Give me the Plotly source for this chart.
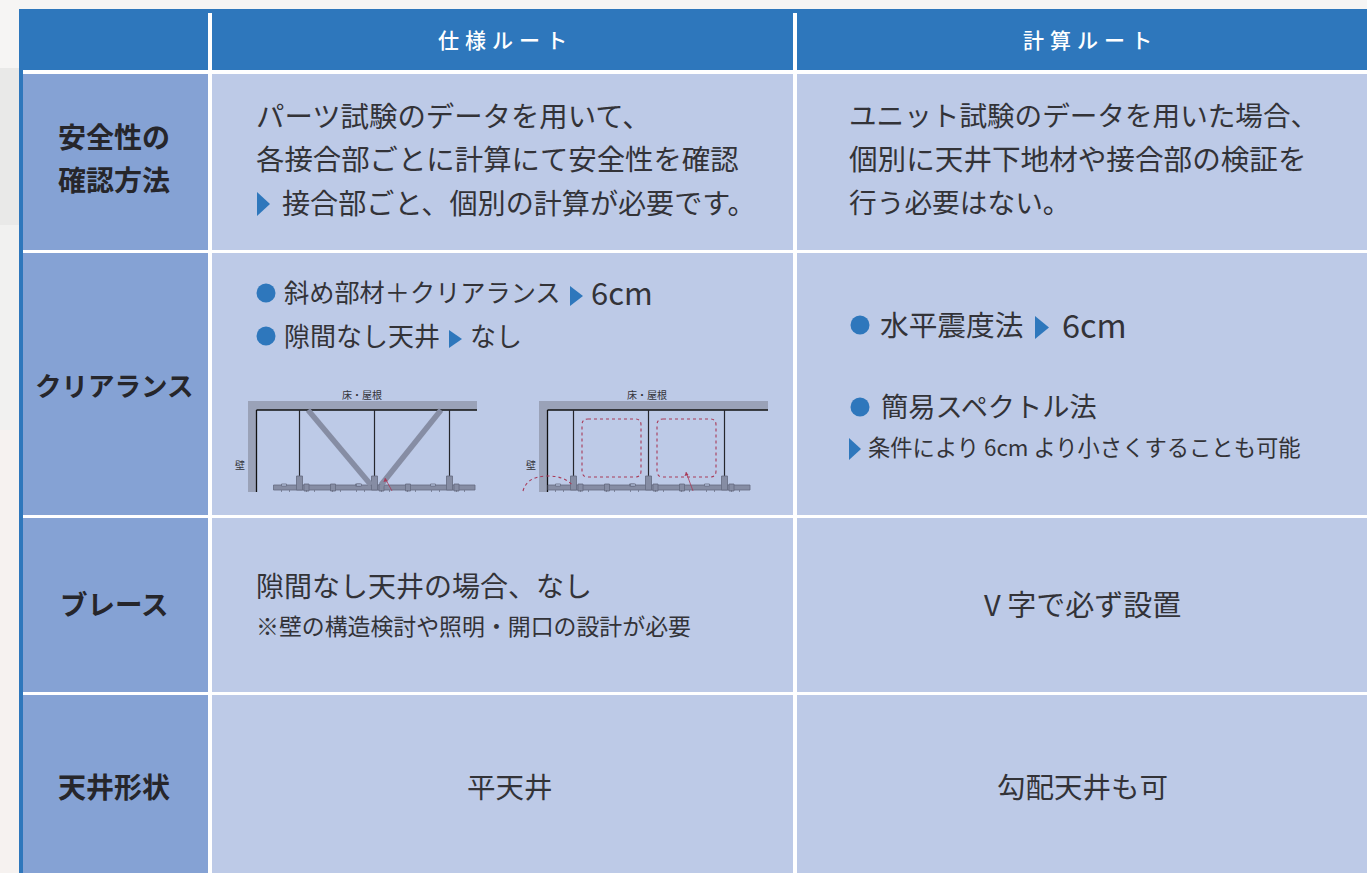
import plotly.graph_objects as go

W, H = 1367, 873
FONT = "Noto Sans CJK JP"
INK = "#333338"
BLUE = "#2e77bc"
LABEL_BG = "#85a2d4"
CELL_BG = "#bdcae7"
STEEL = "#9aa2b8"
BAR = "#868da4"
BAR_EDGE = "#656b80"
RED = "#a93a58"

# Table content
header_labels = ["仕\u200a 様\u200a ル\u200a ー\u200a ト", "計\u200a 算\u200a ル\u200a ー\u200a ト"]
row_labels = ["安全性の", "確認方法", "クリアランス", "ブレース", "天井形状"]
left_cell_texts = [
    "パーツ試験のデータを用いて、",
    "各接合部ごとに計算にて安全性を確認",
    "接合部ごと、個別の計算が必要です。",
    "斜め部材＋クリアランス",
    "6cm",
    "隙間なし天井",
    "なし",
    "隙間なし天井の場合、なし",
    "※壁の構造検討や照明・開口の設計が必要",
    "ユニット試験のデータを用いた場合、",
    "個別に天井下地材や接合部の検証を",
    "行う必要はない。",
    "水平震度法",
    "6cm",
    "簡易スペクトル法",
    "条件により 6cm より小さくすることも可能",
]
centered_texts = ["V 字で必ず設置", "平天井", "勾配天井も可"]
diagram_texts = ["床・屋根", "壁", "床・屋根", "壁"]

# Placement (kept apart from the content above)
header_x = [502, 1087]
label_y = [138, 181, 386, 605, 788]
label_sizes = [28, 28, 26.5, 27.5, 28]
left_x = [257, 257, 283, 285, 592, 285, 471, 257, 257, 850, 850, 850, 881, 1063, 882, 869]
left_y = [116, 159, 203, 293, 293, 336, 336, 587, 627, 116, 159, 203, 325, 325, 407, 448]
left_sizes = [28.4, 28.4, 28.1, 25.2, 31, 26, 26, 28, 22.9, 27.6, 28.6, 27.7, 28.7, 32.5, 27.2, 22.3]
center_x = [1082, 510, 1082]
center_y = [605, 787, 787]
center_sizes = [29, 28.5, 28.5]
diagram_x = [362, 240, 647, 531]
diagram_y = [394, 464, 394, 464]

col_edges = [(23, 208), (212, 793), (797, W)]
row_edges = [(74, 250), (253, 515), (518, 692), (695, H)]

bullets_x = [266, 266, 860, 860]
bullets_y = [293, 336, 325, 407]
arrows_x = [263.5, 576.5, 455.5, 1042, 855]
arrows_y = [204, 296, 339, 327.5, 449]
arrows_w = [13, 13, 13, 14, 12]
arrows_h = [24, 20, 18, 23, 22]

shapes = []


def rect(x0, y0, x1, y1, color, edge=None):
    shapes.append(dict(type="rect", x0=x0, y0=y0, x1=x1, y1=y1, fillcolor=color,
                       line=dict(color=edge, width=0.8) if edge else dict(width=0), layer="below"))


def line(x0, y0, x1, y1, color="#111111", width=1.3, dash="solid"):
    shapes.append(dict(type="line", x0=x0, y0=y0, x1=x1, y1=y1,
                       line=dict(color=color, width=width, dash=dash), layer="below"))


def tri(x, y, w, h, color):
    shapes.append(dict(type="path", path=f"M {x-w/2} {y-h/2} L {x+w/2} {y} L {x-w/2} {y+h/2} Z",
                       fillcolor=color, line=dict(width=0), layer="above"))


# Page background
rect(0, 0, W, H, "#f6f5f4")
rect(0, 68, 19, 225, "#e9e9e8")
rect(0, 225, 19, 430, "#f1f1f0")
rect(0, 430, 19, H, "#f6f2f0")

# Table frame
rect(19, 9, W, H, "#ffffff")
rect(19, 9, 23, H, BLUE)
rect(19, 9, W, 70, BLUE)
rect(208, 13, 212, 70, "#ffffff")
rect(793, 13, 797, 70, "#ffffff")
for y0, y1 in row_edges:
    rect(col_edges[0][0], y0, col_edges[0][1], y1, LABEL_BG)
    rect(col_edges[1][0], y0, col_edges[1][1], y1, CELL_BG)
    rect(col_edges[2][0], y0, col_edges[2][1], y1, CELL_BG)


def building(ox, right, hangers, bar_left, bar_right):
    rect(ox, 401, right, 410, STEEL)
    rect(ox, 401, ox + 8, 492, STEEL)
    line(ox + 8.5, 410, right, 410, width=1.5)
    line(ox + 8.5, 410, ox + 8.5, 492, width=1.3)
    for hx in hangers:
        line(hx, 410, hx, 477, color="#25262c", width=1.2)
    rect(bar_left, 485, bar_right, 490, BAR, BAR_EDGE)
    for hx in hangers:
        rect(hx - 3, 476, hx + 3, 490, BAR, BAR_EDGE)
        rect(hx + 4.5, 484, hx + 9.5, 491, BAR, BAR_EDGE)
    for hx in hangers[:-1]:
        rect(hx + 31, 484, hx + 36, 491, BAR, BAR_EDGE)
        rect(hx - 18, 484, hx - 13, 486, CELL_BG, BAR_EDGE)
        rect(hx + 56, 484, hx + 61, 486, CELL_BG, BAR_EDGE)
    for hx in hangers:
        for dx in (-18, -10, 7, 15, 33, 41):
            if bar_left < hx + dx < bar_right:
                line(hx + dx, 490, hx + dx, 492, color=BAR_EDGE, width=0.7)


def pointer(x0, y0, x1, y1):
    line(x0, y0, x1, y1, color=RED, width=0.8)
    shapes.append(dict(type="path", path=f"M {x1} {y1} L {x1-1.5} {y1+4} L {x1+2.5} {y1+3} Z",
                       fillcolor=RED, line=dict(width=0), layer="below"))


# Diagram 1: braced ceiling
building(248, 477, [299.5, 374.5, 449.5], 273.5, 475)
line(308, 410, 371, 485, color=BAR, width=5.5)
line(441, 410, 381, 485, color=BAR, width=5.5)
pointer(392, 491, 385, 478)

# Diagram 2: gapless ceiling
building(539, 768, [573.5, 648.5, 724.5], 548, 750)
for x0, x1 in [(582, 641), (657, 716)]:
    shapes.append(dict(
        type="path",
        path=f"M {x0+6} 419 L {x1-6} 419 Q {x1} 419 {x1} 425 L {x1} 471 Q {x1} 477 {x1-6} 477 "
             f"L {x0+6} 477 Q {x0} 477 {x0} 471 L {x0} 425 Q {x0} 419 {x0+6} 419 Z",
        line=dict(color=RED, width=1.1, dash="dot"), layer="below"))
shapes.append(dict(type="path", path="M 523 491 Q 527 476 548 476 Q 565 476 573 486",
                   line=dict(color=RED, width=1.1, dash="dot"), layer="below"))
pointer(693, 491, 686, 472)

for x, y, w, h in zip(arrows_x, arrows_y, arrows_w, arrows_h):
    tri(x, y, w, h, BLUE)

annotations = []


def text(s, x, y, size, anchor="left", color=INK, bold=False, weight=None):
    font = dict(family=FONT, size=size, color=color)
    if weight:
        font["weight"] = weight
    annotations.append(dict(
        text=f"<b>{s}</b>" if bold else s,
        x=x - (3 if anchor == "left" else 0), y=y - 2, xref="x", yref="y",
        xanchor=anchor, yanchor="middle", showarrow=False, font=font))


for label, x in zip(header_labels, header_x):
    text(label, x, 41, 21, "center", "#ffffff", weight=500)
for s, y, size in zip(row_labels, label_y, label_sizes):
    text(s, 114, y, size, "center", "#26262b", True)
for s, x, y, size in zip(left_cell_texts, left_x, left_y, left_sizes):
    text(s, x, y, size)
for s, x, y, size in zip(centered_texts, center_x, center_y, center_sizes):
    text(s, x, y, size, "center")
for s, x, y in zip(diagram_texts, diagram_x, diagram_y):
    text(s, x, y + 2, 10, "center")

fig = go.Figure()
fig.add_trace(go.Scatter(x=bullets_x, y=bullets_y, mode="markers", hoverinfo="skip",
                         marker=dict(symbol="circle", size=19, color=BLUE)))
fig.update_layout(
    width=W, height=H, margin=dict(l=0, r=0, t=0, b=0), showlegend=False,
    paper_bgcolor="#ffffff", plot_bgcolor="rgba(0,0,0,0)",
    xaxis=dict(range=[0, W], visible=False, fixedrange=True),
    yaxis=dict(range=[H, 0], visible=False, fixedrange=True),
    shapes=shapes, annotations=annotations,
)
fig.write_html("out.html", config={"displayModeBar": False},
               post_script="document.body.style.margin='0';document.documentElement.style.overflow='hidden';")
